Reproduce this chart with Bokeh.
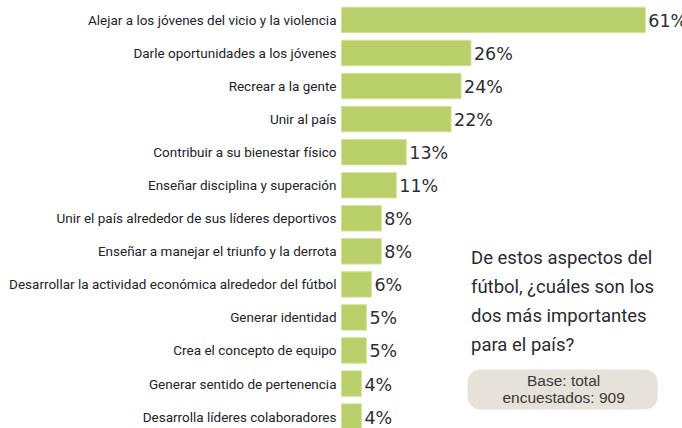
from bokeh.plotting import figure
from bokeh.models import ColumnDataSource, Range1d, BoxAnnotation
from bokeh.core.properties import value
from bokeh.embed import file_html
from bokeh.resources import INLINE

categories = [
    "Alejar a los jóvenes del vicio y la violencia",
    "Darle oportunidades a los jóvenes",
    "Recrear a la gente",
    "Unir al país",
    "Contribuir a su bienestar físico",
    "Enseñar disciplina y superación",
    "Unir el país alrededor de sus líderes deportivos",
    "Enseñar a manejar el triunfo y la derrota",
    "Desarrollar la actividad económica alrededor del fútbol",
    "Generar identidad",
    "Crea el concepto de equipo",
    "Generar sentido de pertenencia",
    "Desarrolla líderes colaboradores",
]
percentages = [61, 26, 24, 22, 13, 11, 8, 8, 6, 5, 5, 4, 4]
question_lines = [
    "De estos aspectos del",
    "fútbol, ¿cuáles son los",
    "dos más importantes",
    "para el país?",
]
base_lines = ["Base: total", "encuestados: 909"]

rows = list(range(len(categories)))
src = ColumnDataSource(dict(
    y=rows,
    cat=categories,
    val=percentages,
    lbl=[f"{v}%" for v in percentages],
))

p = figure(width=682, height=428, output_backend="svg", toolbar_location=None,
           x_range=Range1d(-68.47, 68.47), y_range=Range1d(12.36, -0.5885),
           min_border=0, min_border_left=0, min_border_right=0,
           min_border_top=0, min_border_bottom=0)
p.axis.visible = False
p.grid.visible = False
p.outline_line_color = None
p.background_fill_color = "white"
p.border_fill_color = "white"

p.hbar(y="y", left=0, right="val", height=0.77, source=src,
       fill_color="#b9d06a", line_color="#d3e29e", line_width=1)

p.text(x=0, y="y", text="cat", source=src, x_offset=-5,
       text_align="right", text_baseline="middle",
       text_font=value("Roboto"), text_font_size="13.5px",
       text_color="#232328")

p.text(x="val", y="y", text="lbl", source=src, x_offset=3, y_offset=1,
       text_align="left", text_baseline="middle",
       text_font=value("DejaVu Sans"), text_font_size="17.5px",
       text_color="#2e2e33")

# question text
qy = [(py - 19.45) / 33.05 for py in (257, 286, 315, 344)]
p.text(x=[26.0] * len(question_lines), y=qy, text=question_lines,
       text_align="left", text_baseline="alphabetic",
       text_font=value("Roboto"), text_font_size="18.5px",
       text_color="#2a2a2f")

box = BoxAnnotation(left=25.3, right=63.5, top=(369 - 19.45) / 33.05,
                    bottom=(409 - 19.45) / 33.05,
                    fill_color="#e6e2d9", fill_alpha=1.0, line_color=None,
                    border_radius=13, level="underlay")
p.add_layout(box)

by = [(py - 19.45) / 33.05 for py in (380, 397)]
p.text(x=[44.6] * 2, y=by, text=base_lines,
       text_align="center", text_baseline="middle",
       text_font=value("Liberation Sans"), text_font_size="15.5px",
       text_color="#3a3a3a")

open("out.html", "w").write(file_html(p, INLINE))
